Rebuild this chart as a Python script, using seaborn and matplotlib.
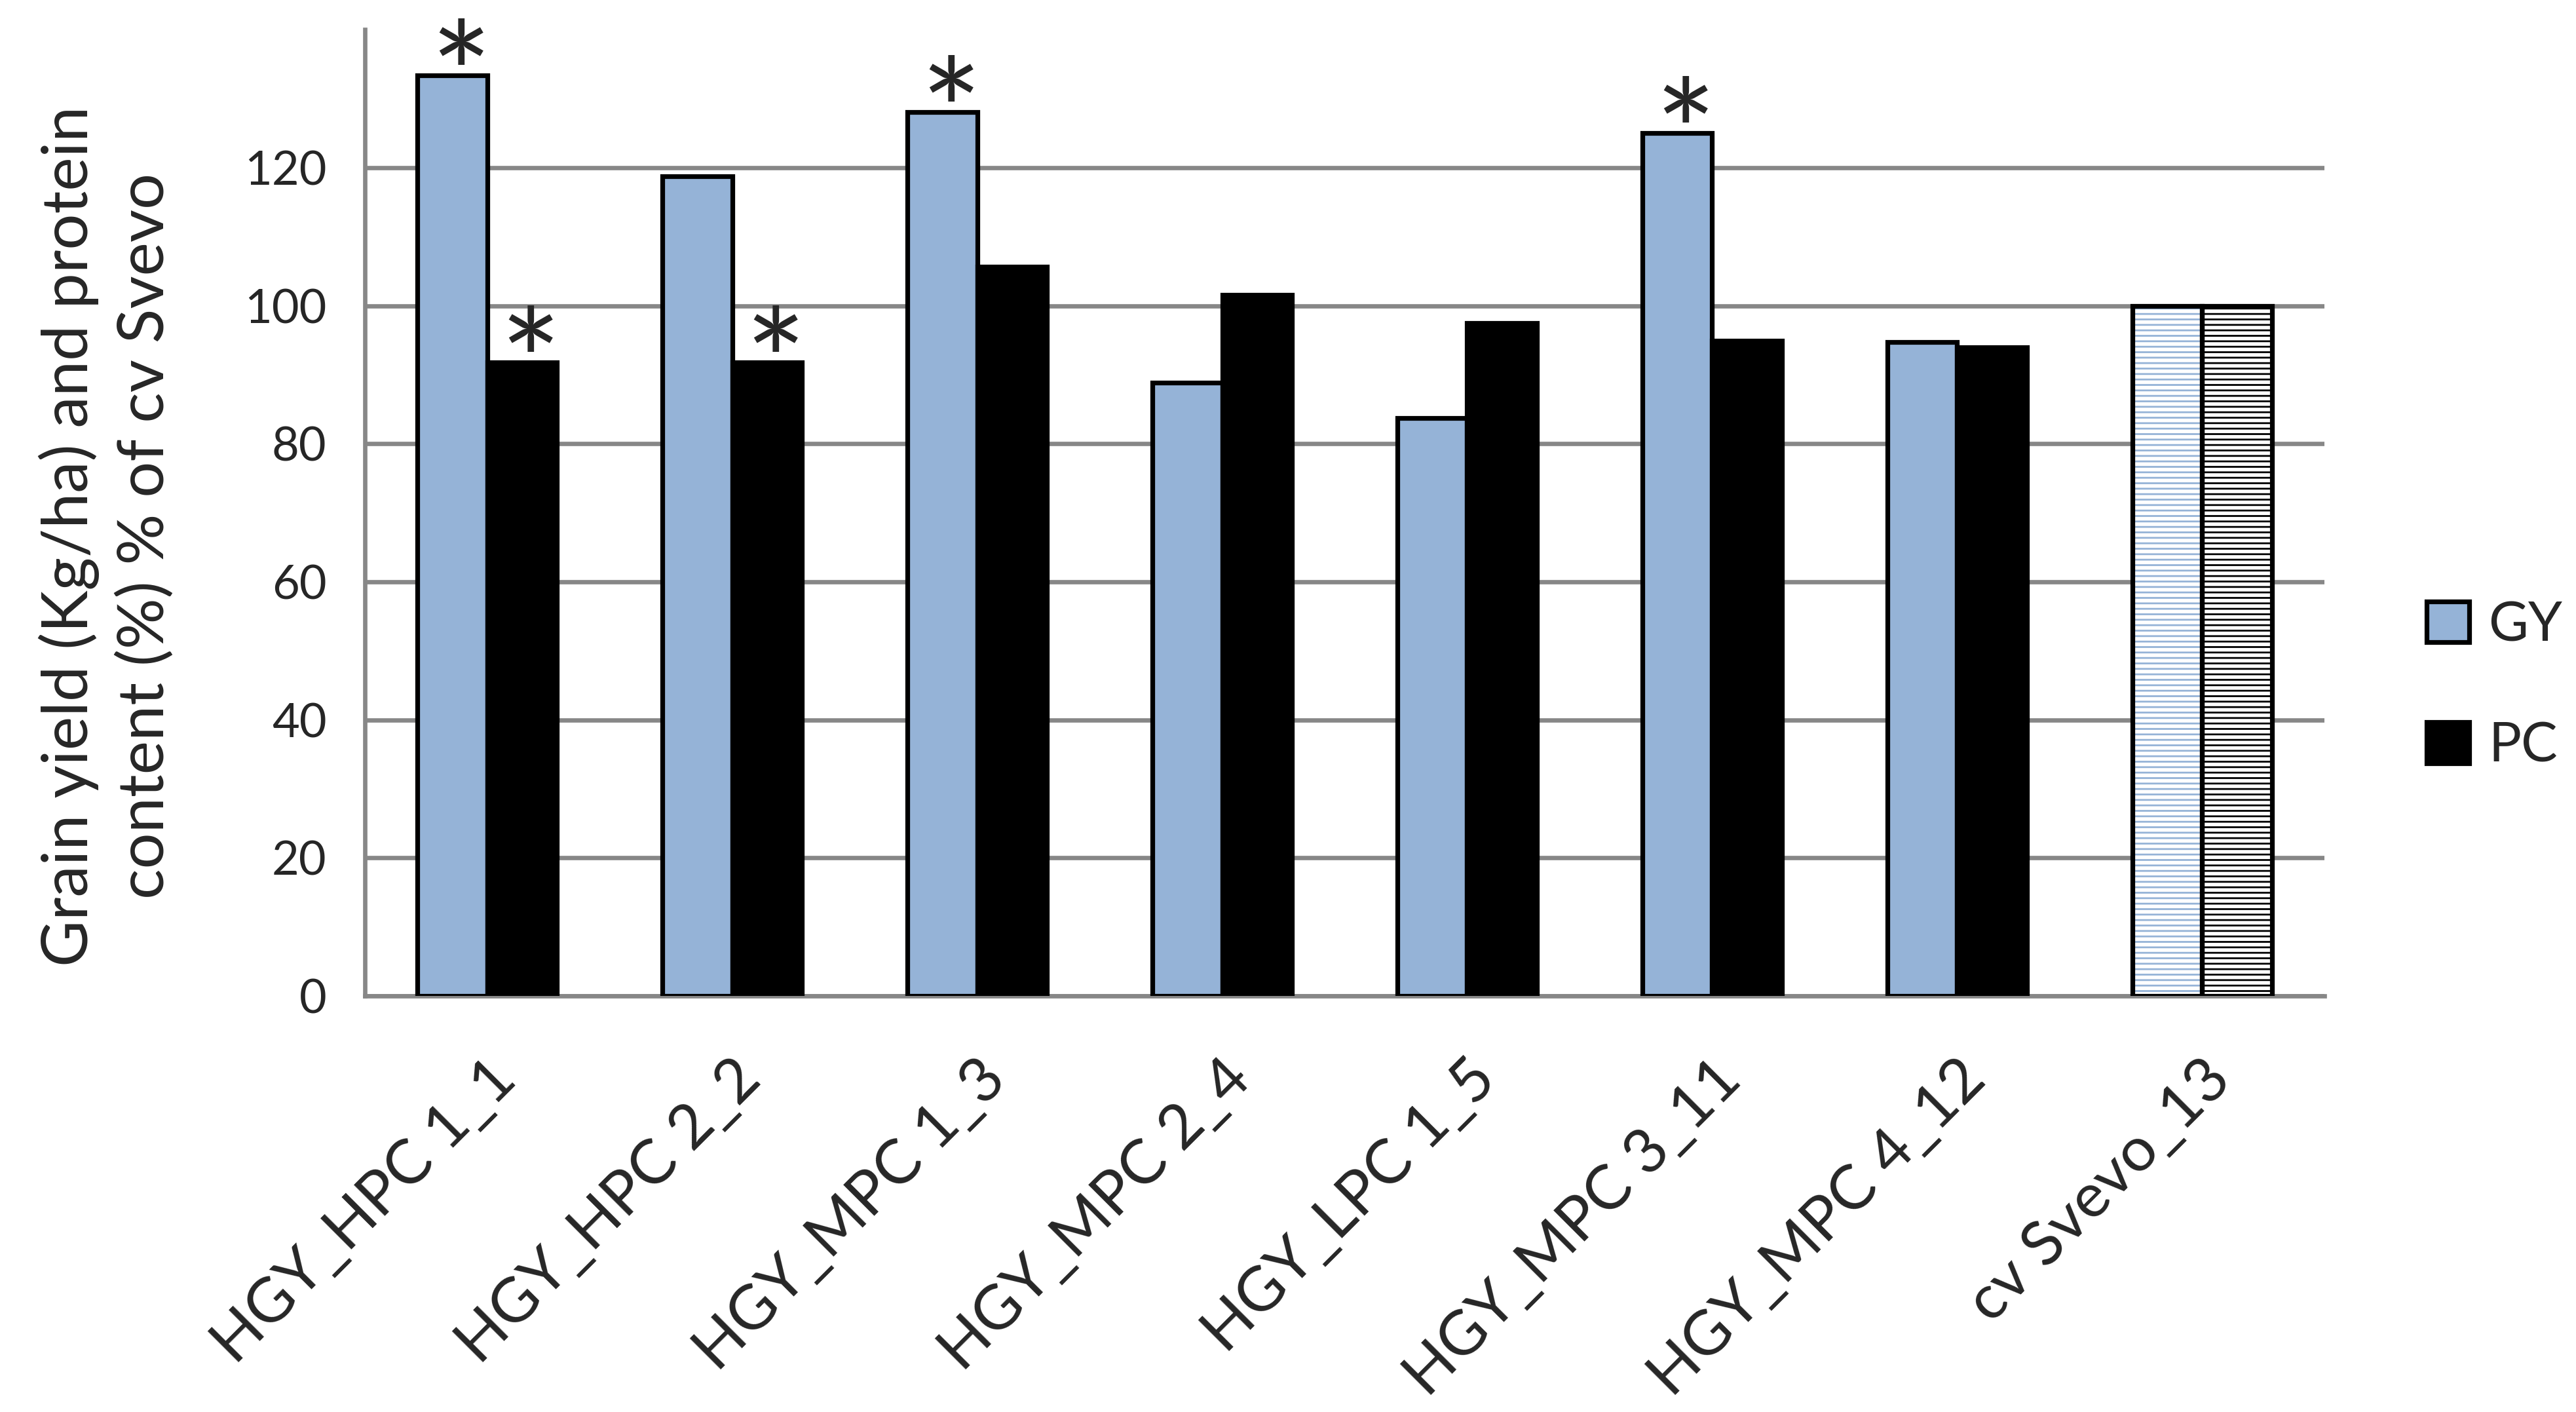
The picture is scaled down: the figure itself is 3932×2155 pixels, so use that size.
import pandas as pd
import matplotlib
matplotlib.use("Agg")
import matplotlib.pyplot as plt
import seaborn as sns
from matplotlib.patches import Rectangle

# data
lines = ["HGY_HPC 1_1", "HGY_HPC 2_2", "HGY_MPC 1_3", "HGY_MPC 2_4",
         "HGY_LPC 1_5", "HGY_MPC 3_11", "HGY_MPC 4_12", "cv Svevo_13"]
gy = [133.4, 118.8, 128.1, 88.9, 83.7, 125.0, 94.7, 100.0]
pc = [91.8, 91.8, 105.7, 101.6, 97.5, 94.9, 94.0, 100.0]
gy_star = [1, 0, 1, 0, 0, 1, 0, 0]
pc_star = [1, 1, 0, 0, 0, 0, 0, 0]

df = pd.DataFrame({"Line": lines * 2,
                   "Value": gy + pc,
                   "Trait": ["GY"] * len(lines) + ["PC"] * len(lines)})

sns.set_style("white")
plt.rcParams["font.family"] = ["Lato", "DejaVu Sans"]
plt.rcParams["hatch.linewidth"] = 1.0

grid_col = "#878787"
blue = "#95b3d7"

fig = plt.figure(figsize=(19.66, 10.775), dpi=200)
ax = fig.add_axes([0.1416, 0.2947, 0.7608, 0.6843])

sns.barplot(data=df, x="Line", y="Value", hue="Trait", palette={"GY": blue, "PC": "black"},
            width=0.57, gap=0, errorbar=None, edgecolor="black", linewidth=2.6,
            saturation=1, ax=ax, zorder=3, legend=False)

# control variety drawn with horizontal hatching
for cont, hc in zip(ax.containers, [blue, "black"]):
    p = cont[len(lines) - 1]
    p.set_facecolor("white")
    p.set_edgecolor(hc)
    p.set_hatch("----")
    p.set_linewidth(0)
    ax.add_patch(Rectangle(p.get_xy(), p.get_width(), p.get_height(), fill=False,
                           edgecolor="black", linewidth=2.6, zorder=4))

# significance asterisks
for cont, flags in zip(ax.containers, [gy_star, pc_star]):
    for p, f in zip(cont, flags):
        if f:
            ax.text(p.get_x() + p.get_width() * 0.62, p.get_height() - 7.6, "*",
                    ha="center", va="baseline", fontsize=80, zorder=5)

ax.set_xlim(-0.5, len(lines) - 0.5)
ax.set_ylim(0, 140)
ax.set_yticks(range(0, 121, 20))
ax.yaxis.grid(True, color=grid_col, linewidth=2.4)
ax.set_axisbelow(True)

for s in ["top", "right"]:
    ax.spines[s].set_visible(False)
for s in ["left", "bottom"]:
    ax.spines[s].set_color(grid_col)
    ax.spines[s].set_linewidth(2.4)

ax.set_xticks(range(len(lines)))
ax.set_xticks([i - 0.5 for i in range(len(lines) + 1)], minor=True)
ax.set_xticklabels(lines, rotation=45, ha="right", rotation_mode="anchor", fontsize=34)
ax.tick_params(axis="x", which="major", length=0, pad=30)
ax.tick_params(axis="x", which="minor", length=12, width=2.4, color=grid_col)
ax.tick_params(axis="y", length=11, width=2.4, color=grid_col, labelsize=26, pad=10)

ax.set_xlabel("")
ax.set_ylabel("Grain yield (Kg/ha) and protein\ncontent (%) % of cv Svevo", fontsize=35,
              linespacing=1.35)
ax.yaxis.set_label_coords(-0.097, 0.476)

ax.legend(handles=[ax.containers[0], ax.containers[1]], labels=["GY", "PC"],
          loc="center left", bbox_to_anchor=(0.942, 0.514), bbox_transform=fig.transFigure,
          frameon=False, fontsize=30, handlelength=0.78, handleheight=0.78,
          handletextpad=0.35, labelspacing=1.3, borderpad=0, borderaxespad=0)

fig.savefig("out.png", dpi=200)
